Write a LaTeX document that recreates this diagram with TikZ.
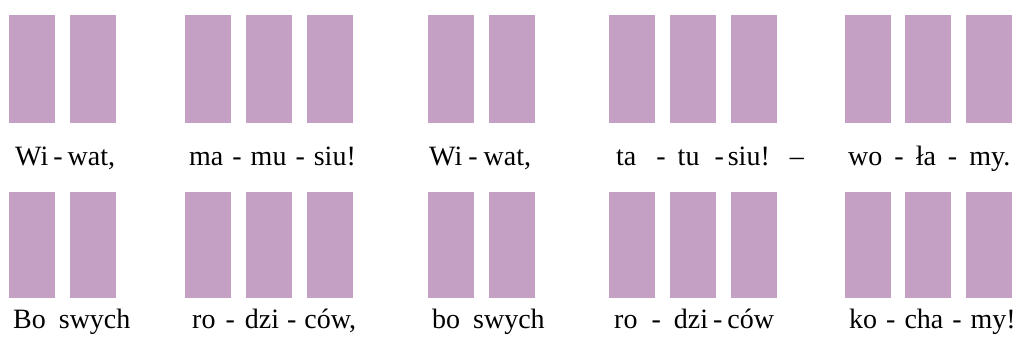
\documentclass[tikz,border=0pt]{standalone}
\usepackage{fontspec}
\setmainfont{Liberation Serif}
\definecolor{barcol}{RGB}{196,160,197}
\newcommand\hsp[1]{\hspace{#1pt}}
\begin{document}
\begin{tikzpicture}[x=1pt,y=-1pt,
  lbl/.style={anchor=base west, inner sep=0pt, font=\fontsize{28}{30}\selectfont}]
\useasboundingbox (0,0) rectangle (1016,342);
\foreach \x in {8.5,69.5,185,246,307,428,489,609,670,731,844.5,905,966} {
  \fill[barcol] (\x,15) rectangle ++(46,107.5);
  \fill[barcol] (\x,192) rectangle ++(46,106);
}
% row 1
\node[lbl] (a1) at (15,165) {Wi\hsp{5}-\hsp{5}wat,};
\node[lbl] (a2) at (189,165) {ma\hsp{9}-\hsp{9}mu\hsp{9}-\hsp{9}siu!};
\node[lbl] (a3) at (429,165) {Wi\hsp{6}-\hsp{6}wat,};
\node[lbl] (a4) at (616,165) {ta\hsp{20}-\hsp{12}tu\hsp{15}-\hsp{4}siu!\hsp{20}–};
\node[lbl] (a5) at (848,165) {wo\hsp{12}-\hsp{12}ła\hsp{12}-\hsp{12}my.};
% row 2
\node[lbl] (b1) at (13,328) {Bo\hsp{13}swych};
\node[lbl] (b2) at (192,328) {ro\hsp{10}-\hsp{10}dzi\hsp{8}-\hsp{8}ców,};
\node[lbl] (b3) at (432,328) {bo\hsp{13}swych};
\node[lbl] (b4) at (614,328) {ro\hsp{14}-\hsp{13}dzi\hsp{5}-\hsp{5}ców};
\node[lbl] (b5) at (849,328) {ko\hsp{9}-\hsp{9}cha\hsp{9}-\hsp{9}my!};
\end{tikzpicture}
\end{document}
